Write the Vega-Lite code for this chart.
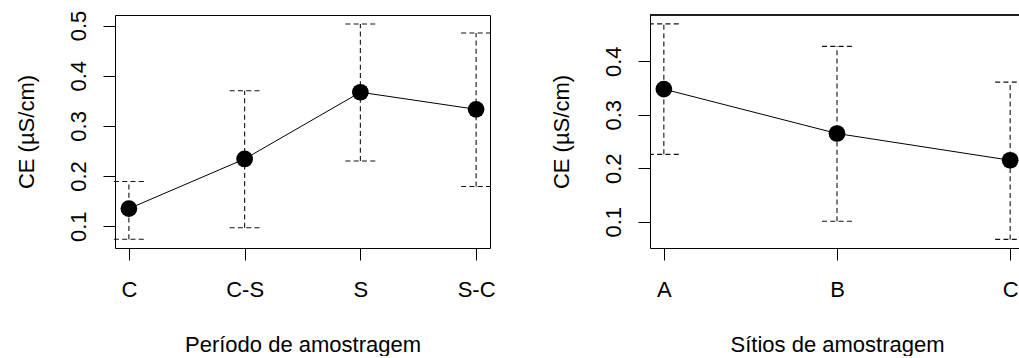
{
  "$schema": "https://vega.github.io/schema/vega-lite/v6.json",
  "background": "white",
  "padding": {"left": 14, "top": 9, "right": 0, "bottom": 0},
  "bounds": "flush",
  "spacing": 160,
  "config": {
    "font": "Liberation Sans",
    "axis": {
      "grid": false,
      "domainColor": "#000",
      "domainWidth": 1,
      "tickColor": "#000",
      "tickWidth": 1,
      "tickSize": 12,
      "labelColor": "#000",
      "titleColor": "#000",
      "labelFont": "Liberation Sans",
      "titleFont": "Liberation Sans",
      "labelFontSize": 22,
      "titleFontSize": 22,
      "titleFontWeight": "normal"
    },
    "axisX": {
      "labelAngle": 0,
      "labelBaseline": "alphabetic",
      "labelPadding": 36,
      "titleBaseline": "alphabetic",
      "titleAlign": "center",
      "titleY": 103
    },
    "axisY": {
      "labelAngle": 270,
      "labelAlign": "center",
      "labelBaseline": "alphabetic",
      "labelPadding": 18,
      "titleAngle": 270,
      "titleBaseline": "alphabetic",
      "titleAlign": "center",
      "titleX": -82,
      "titleY": 116.5
    }
  },
  "datasets": {
    "periodo": [
      {"periodo": "C", "media": 0.135, "lo": 0.074, "hi": 0.189},
      {"periodo": "C-S", "media": 0.234, "lo": 0.097, "hi": 0.37},
      {"periodo": "S", "media": 0.367, "lo": 0.23, "hi": 0.503},
      {"periodo": "S-C", "media": 0.333, "lo": 0.179, "hi": 0.485}
    ],
    "sitios": [
      {"sitio": "A", "media": 0.348, "lo": 0.226, "hi": 0.47},
      {"sitio": "B", "media": 0.265, "lo": 0.101, "hi": 0.428},
      {"sitio": "C", "media": 0.215, "lo": 0.067, "hi": 0.361}
    ]
  },
  "hconcat": [
    {
      "width": 375,
      "height": 233,
      "data": {"name": "periodo"},
      "view": {"stroke": "#000", "strokeWidth": 1},
      "encoding": {
        "x": {
          "field": "periodo",
          "type": "ordinal",
          "sort": null,
          "scale": {"type": "point", "padding": 0.12},
          "axis": {"title": "Período de amostragem", "titleX": 187.5, "domain": false}
        }
      },
      "layer": [
        {
          "mark": {"type": "rule", "color": "#111", "strokeWidth": 1.1, "strokeDash": [5, 3.3]},
          "encoding": {
            "y": {
              "field": "lo",
              "type": "quantitative",
              "title": "CE (µS/cm)",
              "scale": {"domain": [0.0565, 0.521], "nice": false, "zero": false},
              "axis": {"values": [0.1, 0.2, 0.3, 0.4, 0.5], "format": ".1f", "domain": false}
            },
            "y2": {"field": "hi"}
          }
        },
        {
          "mark": {"type": "rule", "color": "#111", "strokeWidth": 1.1, "strokeDash": [5, 3.3], "xOffset": -15, "x2Offset": 15},
          "encoding": {
            "x2": {"field": "periodo"},
            "y": {"field": "lo", "type": "quantitative", "title": "CE (µS/cm)", "scale": {"domain": [0.0565, 0.521], "nice": false, "zero": false}}
          }
        },
        {
          "mark": {"type": "rule", "color": "#111", "strokeWidth": 1.1, "strokeDash": [5, 3.3], "xOffset": -15, "x2Offset": 15},
          "encoding": {
            "x2": {"field": "periodo"},
            "y": {"field": "hi", "type": "quantitative", "title": "CE (µS/cm)", "scale": {"domain": [0.0565, 0.521], "nice": false, "zero": false}}
          }
        },
        {
          "mark": {"type": "line", "color": "#000", "strokeWidth": 1},
          "encoding": {
            "y": {"field": "media", "type": "quantitative", "title": "CE (µS/cm)", "scale": {"domain": [0.0565, 0.521], "nice": false, "zero": false}}
          }
        },
        {
          "mark": {"type": "point", "filled": true, "color": "#000", "opacity": 1, "size": 280},
          "encoding": {
            "y": {"field": "media", "type": "quantitative", "title": "CE (µS/cm)", "scale": {"domain": [0.0565, 0.521], "nice": false, "zero": false}}
          }
        }
      ]
    },
    {
      "width": 369,
      "height": 233,
      "data": {"name": "sitios"},
      "view": {"stroke": null},
      "encoding": {
        "x": {
          "field": "sitio",
          "type": "ordinal",
          "sort": null,
          "scale": {"type": "point", "padding": 0.08, "range": [0, 374]},
          "axis": {"title": "Sítios de amostragem", "titleX": 187}
        }
      },
      "layer": [
        {
          "mark": {"type": "rule", "color": "#000", "strokeWidth": 1},
          "encoding": {
            "x": null,
            "y": {"datum": 0.4866, "type": "quantitative", "scale": {"domain": [0.0509, 0.4866], "nice": false, "zero": false}}
          }
        },
        {
          "mark": {"type": "rule", "color": "#111", "strokeWidth": 1.1, "strokeDash": [5, 3.3]},
          "encoding": {
            "y": {
              "field": "lo",
              "type": "quantitative",
              "title": "CE (µS/cm)",
              "scale": {"domain": [0.0509, 0.4866], "nice": false, "zero": false},
              "axis": {"values": [0.1, 0.2, 0.3, 0.4], "format": ".1f"}
            },
            "y2": {"field": "hi"}
          }
        },
        {
          "mark": {"type": "rule", "color": "#111", "strokeWidth": 1.1, "strokeDash": [5, 3.3], "xOffset": -15, "x2Offset": 15, "clip": true},
          "encoding": {
            "x2": {"field": "sitio"},
            "y": {"field": "lo", "type": "quantitative", "title": "CE (µS/cm)", "scale": {"domain": [0.0509, 0.4866], "nice": false, "zero": false}}
          }
        },
        {
          "mark": {"type": "rule", "color": "#111", "strokeWidth": 1.1, "strokeDash": [5, 3.3], "xOffset": -15, "x2Offset": 15, "clip": true},
          "encoding": {
            "x2": {"field": "sitio"},
            "y": {"field": "hi", "type": "quantitative", "title": "CE (µS/cm)", "scale": {"domain": [0.0509, 0.4866], "nice": false, "zero": false}}
          }
        },
        {
          "mark": {"type": "line", "color": "#000", "strokeWidth": 1},
          "encoding": {
            "y": {"field": "media", "type": "quantitative", "title": "CE (µS/cm)", "scale": {"domain": [0.0509, 0.4866], "nice": false, "zero": false}}
          }
        },
        {
          "mark": {"type": "point", "filled": true, "color": "#000", "opacity": 1, "size": 280},
          "encoding": {
            "y": {"field": "media", "type": "quantitative", "title": "CE (µS/cm)", "scale": {"domain": [0.0509, 0.4866], "nice": false, "zero": false}}
          }
        }
      ]
    }
  ]
}
